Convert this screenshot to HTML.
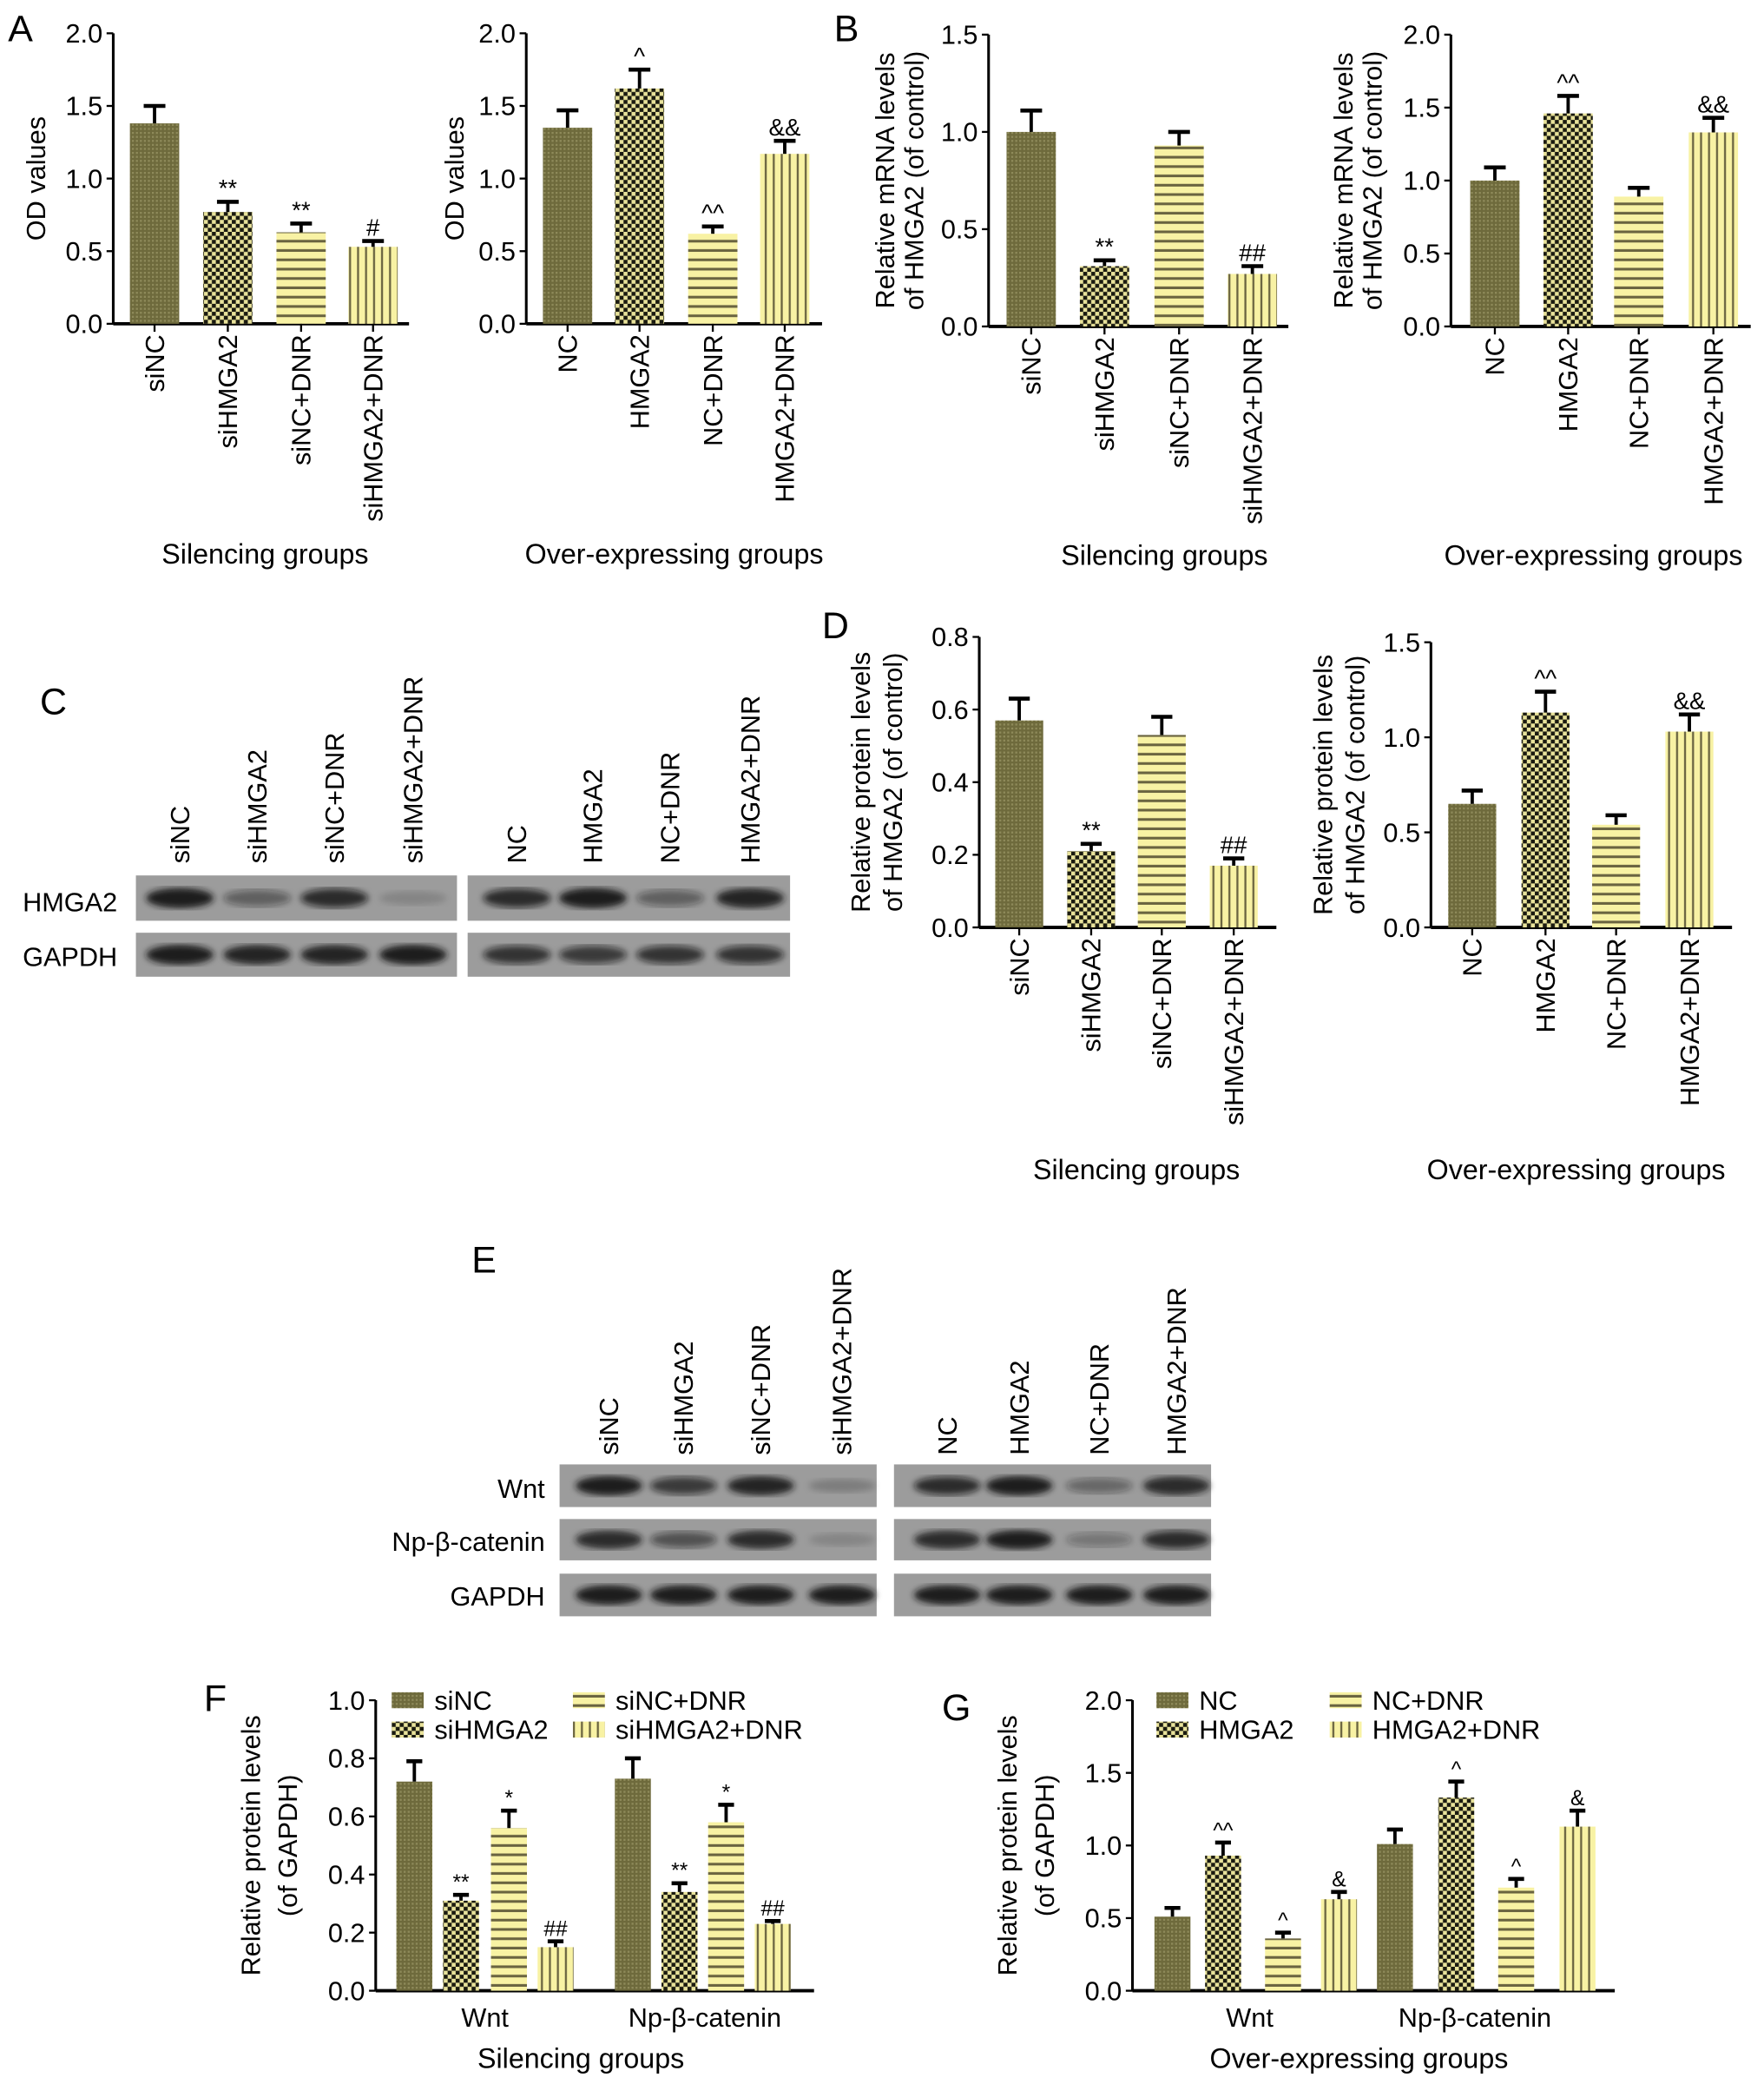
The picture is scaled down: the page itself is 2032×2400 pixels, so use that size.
<!DOCTYPE html>
<html><head><meta charset="utf-8"><style>
html,body{margin:0;padding:0;background:#fff;}
svg{display:block;font-family:"Liberation Sans",sans-serif;}
</style></head><body>
<svg id="fig" width="2032" height="2400" viewBox="0 0 1324 1564" preserveAspectRatio="none" xmlns="http://www.w3.org/2000/svg">
<defs>
<pattern id="pDot" width="3" height="3" patternUnits="userSpaceOnUse"><rect width="3" height="3" fill="#6e6a3c"/><rect x="0" y="0" width="1.5" height="1.5" fill="#8e8a5a"/></pattern>
<pattern id="pChk" width="6" height="6" patternUnits="userSpaceOnUse"><rect width="6" height="6" fill="#1a1a10"/><rect width="3" height="3" fill="#e8e29a"/><rect x="3" y="3" width="3" height="3" fill="#e8e29a"/></pattern>
<pattern id="pHor" width="6" height="7" patternUnits="userSpaceOnUse"><rect width="6" height="7" fill="#f8f2a4"/><rect y="5" width="6" height="2" fill="#6a6440"/></pattern>
<pattern id="pVer" width="6" height="6" patternUnits="userSpaceOnUse"><rect width="6" height="6" fill="#f8f2a4"/><rect x="4" width="1.5" height="6" fill="#6a6440"/></pattern>
<filter id="blur"><feGaussianBlur stdDeviation="2.5"/></filter>
</defs>
<g id="root"></g>
</svg>
<script>
// ---- data ----
const silCats = ["siNC","siHMGA2","siNC+DNR","siHMGA2+DNR"];
const ovCats = ["NC","HMGA2","NC+DNR","HMGA2+DNR"];
const aSilVals = [1.38,0.77,0.63,0.53];
const aSilErr = [0.12,0.07,0.06,0.04];
const aSilMarks = ["","**","**","#"];
const aOvVals = [1.35,1.62,0.62,1.17];
const aOvErr = [0.12,0.13,0.05,0.09];
const aOvMarks = ["","^","^^","&&"];
const bSilVals = [1.0,0.31,0.93,0.27];
const bSilErr = [0.11,0.03,0.07,0.04];
const bSilMarks = ["","**","","##"];
const bOvVals = [1.0,1.46,0.89,1.33];
const bOvErr = [0.09,0.12,0.06,0.1];
const bOvMarks = ["","^^","","&&"];
const dSilVals = [0.57,0.21,0.53,0.17];
const dSilErr = [0.06,0.02,0.05,0.02];
const dSilMarks = ["","**","","##"];
const dOvVals = [0.65,1.13,0.54,1.03];
const dOvErr = [0.07,0.11,0.05,0.09];
const dOvMarks = ["","^^","","&&"];
const proteins = ["Wnt","Np-β-catenin"];
const fVals = [[0.72,0.31,0.56,0.15],[0.73,0.34,0.58,0.23]];
const fErr = [[0.07,0.02,0.06,0.02],[0.07,0.03,0.06,0.01]];
const fMarks = [["","**","*","##"],["","**","*","##"]];
const gVals = [[0.51,0.93,0.36,0.63],[1.01,1.33,0.71,1.13]];
const gErr = [[0.06,0.09,0.04,0.05],[0.1,0.11,0.06,0.11]];
const gMarks = [["","^^","^","&"],["","^","^","&"]];
const ticksA = [0,0.5,1.0,1.5,2.0];
const ticksB1 = [0,0.5,1.0,1.5];
const ticksD1 = [0,0.2,0.4,0.6,0.8];
const ticksF = [0,0.2,0.4,0.6,0.8,1.0];
const fills = ["url(#pDot)","url(#pChk)","url(#pHor)","url(#pVer)"];

const NS="http://www.w3.org/2000/svg";
const root=document.getElementById('root');
function el(tag,attrs,parent,txt){const e=document.createElementNS(NS,tag);for(const k in attrs)e.setAttribute(k,attrs[k]);if(txt!==undefined)e.textContent=txt;(parent||root).appendChild(e);return e;}
function mkG(name){const g=el('g',{});return g;}

function axes(g,ax,yTop,yBot,xEnd,ticks,fmt){
  const max=ticks[ticks.length-1];
  const y=v=>yBot-(v/max)*(yBot-yTop);
  const a=el('line',{x1:ax,y1:yTop,x2:ax,y2:yBot,stroke:'#000','stroke-width':2},g);
  
  
  const xa=el('line',{x1:ax,y1:yBot,x2:xEnd,y2:yBot,stroke:'#000','stroke-width':2.5},g);
  
  
  ticks.forEach(t=>{
    el('line',{x1:ax-5,y1:y(t),x2:ax,y2:y(t),stroke:'#000','stroke-width':1.5},g);
    const tl=el('text',{x:ax-8,y:y(t)+7,'text-anchor':'end','font-size':20},g,t.toFixed(fmt));
    
    
  });
  return y;
}
function bar(g,cx,w,v,e,y,fill,mark,yBot,mk){
  const r=el('rect',{x:cx-w/2,y:y(v),width:w,height:yBot-y(v),fill:fill},g);
  
  
  el('line',{x1:cx,y1:y(v),x2:cx,y2:y(v+e),stroke:'#000','stroke-width':2.5},g);
  el('line',{x1:cx-w*0.22,y1:y(v+e),x2:cx+w*0.22,y2:y(v+e),stroke:'#000','stroke-width':3},g);
  if(mark){const m=el('text',{x:cx,y:y(v+e)-4,'text-anchor':'middle','font-size':mk||18},g,mark);
    
    }
}
function simple(name,ax,yTop,yBot,xEnd,ticks,fmt,centers,bw,cats,vals,errs,marks,ylab,title,titleX,titleY){
  const g=mkG(name);
  const y=axes(g,ax,yTop,yBot,xEnd,ticks,fmt);
  cats.forEach((c,i)=>{
    bar(g,centers[i],bw,vals[i],errs[i],y,fills[i],marks[i],yBot);
    el('line',{x1:centers[i],y1:yBot,x2:centers[i],y2:yBot+6,stroke:'#000','stroke-width':1.5},g);
    const t=el('text',{x:0,y:0,'text-anchor':'end','font-size':20,transform:`translate(${centers[i]+7},${yBot+8}) rotate(-90)`},g,c);
    
    
  });
  ylab.forEach(l=>{
    const t=el('text',{x:0,y:0,'text-anchor':'middle','font-size':20,transform:`translate(${l[1]+7},${(yTop+yBot)/2}) rotate(-90)`},g,l[0]);
    
    
  });
  const tt=el('text',{x:titleX,y:titleY,'text-anchor':'middle','font-size':21},g,title);
  
  
}
function letter(L,x,y){const t=el('text',{x:x,y:y,'font-size':28},root,L);}

letter('A',6,31);letter('B',626,31);letter('C',30,536);letter('D',617,479);letter('E',354,955);letter('F',153,1284);letter('G',707,1291);

simple('chart-a-silencing',85,25,243,307,ticksA,1,[116,171,226,280],37,silCats,aSilVals,aSilErr,aSilMarks,[["OD values",27]],'Silencing groups',199,423);
simple('chart-a-overexpressing',395,25,243,617,ticksA,1,[426,480,535,589],37,ovCats,aOvVals,aOvErr,aOvMarks,[["OD values",341]],'Over-expressing groups',506,423);
simple('chart-b-silencing',742,26,245,967,ticksB1,1,[774,829,885,940],37,silCats,bSilVals,bSilErr,bSilMarks,[["Relative mRNA levels",664],["of HMGA2 (of control)",686]],'Silencing groups',874,424);
simple('chart-b-overexpressing',1089,26,245,1314,ticksA,1,[1122,1177,1230,1286],37,ovCats,bOvVals,bOvErr,bOvMarks,[["Relative mRNA levels",1008],["of HMGA2 (of control)",1030]],'Over-expressing groups',1196,424);
simple('chart-d-silencing',735,478,696,958,ticksD1,1,[765,819,872,926],36,silCats,dSilVals,dSilErr,dSilMarks,[["Relative protein levels",646],["of HMGA2 (of control)",670]],'Silencing groups',853,885);
simple('chart-d-overexpressing',1074,482,696,1300,ticksA.slice(0,4),1,[1105,1160,1213,1268],36,ovCats,dOvVals,dOvErr,dOvMarks,[["Relative protein levels",993],["of HMGA2 (of control)",1017]],'Over-expressing groups',1183,885);

function grouped(name,ax,yTop,yBot,xEnd,ticks,centers,bw,vals,errs,marks,cats,legX,labX,title,titleX){
  const g=mkG(name);
  const y=axes(g,ax,yTop,yBot,xEnd,ticks,1);
  proteins.forEach((p,gi)=>{
    cats.forEach((c,i)=>bar(g,centers[gi][i],bw,vals[gi][i],errs[gi][i],y,fills[i],marks[gi][i],yBot,16));
    const t=el('text',{x:labX[gi],y:yBot+27,'text-anchor':'middle','font-size':20},g,p);
    
    
  });
  cats.forEach((c,i)=>{
    const lx=(i>=2?legX[1]:legX[0]); const ly=yTop+(i%2)*22;
    const sw=el('rect',{x:lx,y:ly-6,width:24,height:12,fill:fills[i]},g);
    
    
    const lt=el('text',{x:lx+32,y:ly+7,'font-size':20},g,c);
    
    
  });
  [["Relative protein levels",ax-94],["(of GAPDH)",ax-66]].forEach(l=>{
    const t=el('text',{x:0,y:0,'text-anchor':'middle','font-size':20,transform:`translate(${l[1]+7},${(yTop+yBot)/2}) rotate(-90)`},g,l[0]);
    
    
  });
  const tt=el('text',{x:titleX,y:yBot+58,'text-anchor':'middle','font-size':21},g,title);
  
  
}
grouped('chart-f',282,1276,1494,611,ticksF,[[311,346,382,417],[475,510,545,580]],27,fVals,fErr,fMarks,silCats,[294,430],[364,529],'Silencing groups',436);
grouped('chart-g',850,1276,1494,1212,ticksA,[[880,918,963,1005],[1047,1093,1138,1184]],27,gVals,gErr,gMarks,ovCats,[868,998],[938,1107],'Over-expressing groups',1020);

// ---- western blots ----
function blot(name,x,yTop,w,h,bands,intens){
  const g=mkG(name);
  el('rect',{x:x,y:yTop,width:w,height:h,fill:'#9c9c9c'},g);
  bands.forEach((bx,i)=>{const v=intens[i];
    el('ellipse',{cx:bx,cy:yTop+h/2,rx:w/9.5,ry:h*0.14+v*3,fill:`rgba(20,20,20,${v})`,filter:'url(#blur)'},g);});
}
function collabels(xs,labs,yb,fs){xs.forEach((x,i)=>{const t=el('text',{x:0,y:0,'font-size':fs,transform:`translate(${x+7},${yb}) rotate(-90)`},root,labs[i]);});}
const cL=[135,193,251,310], cR=[388,445,503,563];
collabels(cL,silCats,648,20);collabels(cR,ovCats,648,20);
blot('blot-c-hmga2-left',102,657,241,34,cL,[0.95,0.45,0.8,0.15]);
blot('blot-c-hmga2-right',351,657,242,34,cR,[0.8,0.95,0.45,0.9]);
blot('blot-c-gapdh-left',102,700,241,33,cL,[0.95,0.9,0.9,0.95]);
blot('blot-c-gapdh-right',351,700,242,33,cR,[0.75,0.7,0.75,0.75]);
[["HMGA2",684],["GAPDH",725]].forEach(r=>{const t=el('text',{x:17,y:r[1],'font-size':20},root,r[0]);});
const eL=[457,513,571,632], eR=[711,765,825,883];
collabels(eL,silCats,1092,20);collabels(eR,ovCats,1092,20);
blot('blot-e-wnt-left',420,1099,238,32,eL,[0.95,0.7,0.9,0.2]);
blot('blot-e-wnt-right',671,1099,238,32,eR,[0.8,0.95,0.4,0.85]);
blot('blot-e-np-left',420,1140,238,31,eL,[0.85,0.55,0.85,0.15]);
blot('blot-e-np-right',671,1140,238,31,eR,[0.85,0.95,0.3,0.8]);
blot('blot-e-gapdh-left',420,1181,238,32,eL,[0.95,0.95,0.95,0.95]);
blot('blot-e-gapdh-right',671,1181,238,32,eR,[0.95,0.95,0.95,0.95]);
[["Wnt",1124],["Np-β-catenin",1164],["GAPDH",1205]].forEach(r=>{const t=el('text',{x:409,y:r[1],'font-size':20,'text-anchor':'end'},root,r[0]);});
</script>
</body></html>
